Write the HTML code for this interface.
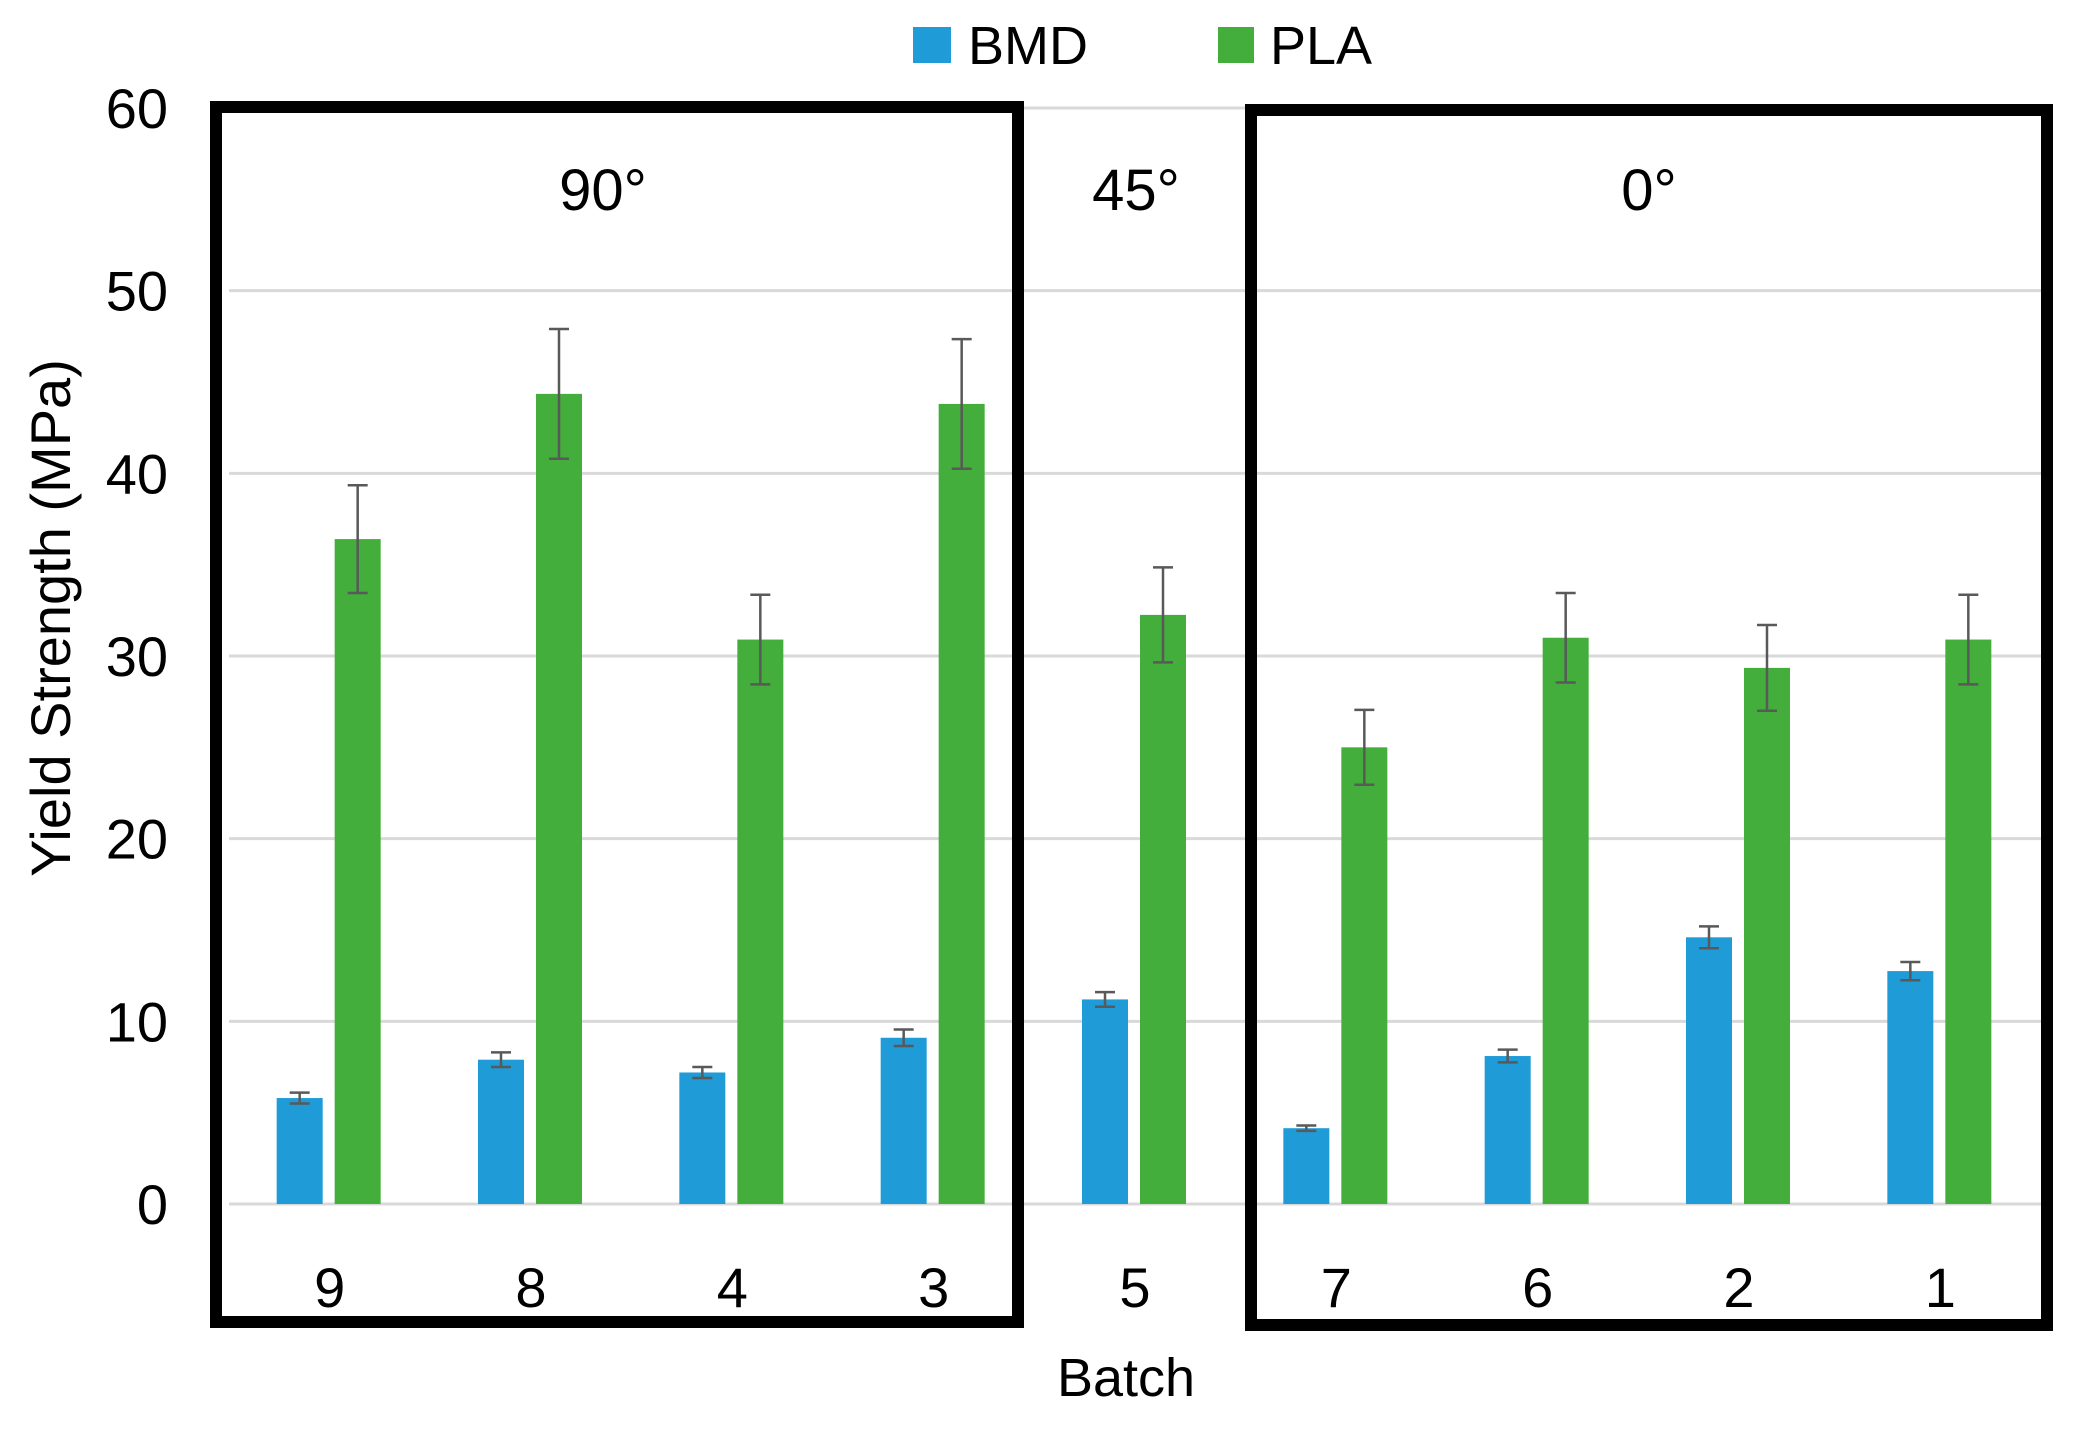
<!DOCTYPE html>
<html><head><meta charset="utf-8"><style>
html,body{margin:0;padding:0;background:#fff;}
svg text{font-family:"Liberation Sans Narrow","Liberation Sans",sans-serif;fill:#000;}
</style></head><body>
<svg id="chart" width="2082" height="1427" viewBox="0 0 2082 1427" xmlns="http://www.w3.org/2000/svg">
<g id="grid"></g>
<g id="bars"></g>
<g id="errs"></g>
<g id="ticks"></g>
<g id="cats"></g>
<rect x="216" y="107" width="802" height="1215" fill="none" stroke="#000" stroke-width="12"/>
<rect x="1251" y="110" width="796" height="1215" fill="none" stroke="#000" stroke-width="12"/>
<text x="603" y="210" font-size="58" text-anchor="middle">90°</text>
<text x="1136" y="210" font-size="58" text-anchor="middle">45°</text>
<text x="1649" y="210" font-size="58" text-anchor="middle">0°</text>
<g>
<rect x="913" y="27" width="38" height="36" fill="#1f9bd7"/>
<text x="968" y="64" font-size="54">BMD</text>
<rect x="1218" y="27" width="36" height="36" fill="#43ae3b"/>
<text x="1270" y="64" font-size="54">PLA</text>
</g>
<text transform="translate(70,618) rotate(-90)" font-size="56" text-anchor="middle">Yield Strength (MPa)</text>
<text x="1126" y="1396" font-size="54" text-anchor="middle">Batch</text>
</svg>
<script>
const categories = ["9","8","4","3","5","7","6","2","1"];
const bmdValues = [5.8,7.9,7.2,9.1,11.2,4.15,8.1,14.6,12.75];
const bmdErrors = [0.3,0.4,0.3,0.45,0.4,0.15,0.35,0.6,0.5];
const plaValues = [36.4,44.35,30.9,43.8,32.25,25.0,31.0,29.35,30.9];
const plaErrors = [2.95,3.55,2.45,3.55,2.6,2.05,2.45,2.35,2.45];
const yTicks = [0,10,20,30,40,50,60];

const NS="http://www.w3.org/2000/svg";
const plotL=229, plotR=2041, y0=1204, y60=108, yMax=60;
const band=(plotR-plotL)/categories.length;
function yScale(v){return y0-(v/yMax)*(y0-y60);}
function xCenter(i){return plotL+band*(i+0.5);}
function mk(tag,attrs,parent){const e=document.createElementNS(NS,tag);for(const k in attrs)e.setAttribute(k,attrs[k]);parent.appendChild(e);return e;}
const grid=document.getElementById('grid'),bars=document.getElementById('bars'),errs=document.getElementById('errs'),ticks=document.getElementById('ticks'),cats=document.getElementById('cats');
yTicks.forEach(t=>{
  const l=mk('line',{x1:plotL,x2:plotR,y1:yScale(t),y2:yScale(t),stroke:'#d9d9d9','stroke-width':3},grid);
  
  
  const tx=mk('text',{x:168,y:yScale(t)+20,'font-size':56,'text-anchor':'end'},ticks);
  tx.textContent=t;
  
  
});
const bw=46;
function drawSeries(vals,errsArr,off,color,name){
  vals.forEach((v,i)=>{
    const cx=xCenter(i)+off;
    const r=mk('rect',{x:cx-bw/2,y:yScale(v),width:bw,height:y0-yScale(v),fill:color},bars);
    
    
    const e=errsArr[i],yt=yScale(v+e),yb=yScale(v-e);
    const g=mk('g',{stroke:'#595959','stroke-width':2.5},errs);
    
    
    mk('line',{x1:cx,x2:cx,y1:yt,y2:yb},g);
    mk('line',{x1:cx-10,x2:cx+10,y1:yt,y2:yt},g);
    mk('line',{x1:cx-10,x2:cx+10,y1:yb,y2:yb},g);
  });
}
drawSeries(bmdValues,bmdErrors,-30,'#1f9bd7','bmd');
drawSeries(plaValues,plaErrors,28,'#43ae3b','pla');
categories.forEach((c,i)=>{
  const t=mk('text',{x:xCenter(i),y:1307,'font-size':56,'text-anchor':'middle'},cats);
  t.textContent=c;
  
  
});
</script>
</body></html>
